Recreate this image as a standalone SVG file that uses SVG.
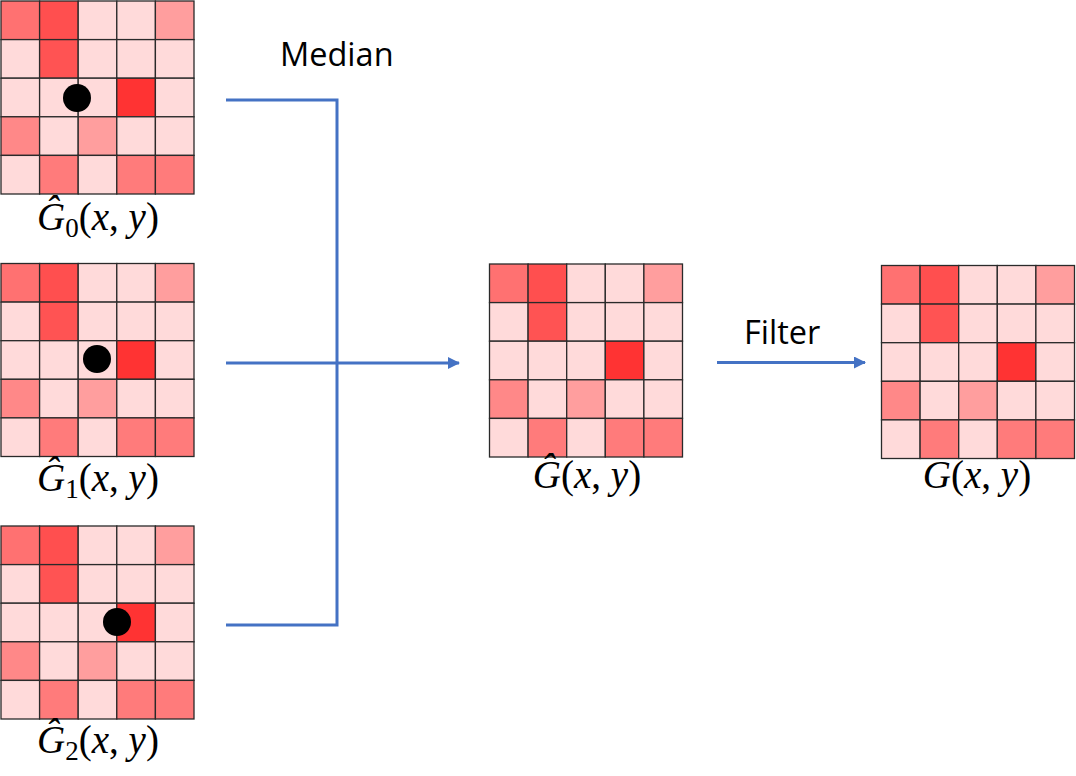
<svg xmlns="http://www.w3.org/2000/svg" xmlns:xlink="http://www.w3.org/1999/xlink" width="1076" height="776" viewBox="0 0 1076 776">
<style>
.c{stroke:#2a2a2a;stroke-width:1.3}
.l{fill:#FFDADA}
.m1{fill:#FF7171}
.m2{fill:#FF4F4F}
.m3{fill:#FF9E9E}
.m4{fill:#FF5353}
.m5{fill:#FF3333}
.m6{fill:#FF8888}
.m7{fill:#FF7B7B}
.conn{stroke:#4472C4;stroke-width:3;fill:none}
.lab{font-family:"Open Sans","Liberation Sans",sans-serif;font-size:32.5px;fill:#000}
.math{font-family:"Liberation Serif","DejaVu Serif",serif;font-size:39px;fill:#000;text-anchor:middle}
.it{font-style:italic}
</style>
<defs>
<marker id="ah" markerWidth="12" markerHeight="12" refX="11" refY="6" orient="auto" markerUnits="userSpaceOnUse">
<path d="M0,0 L12,6 L0,12 Z" fill="#4472C4"/>
</marker>
<g id="grid">
<rect class="c m1" x="0" y="0" width="38.6" height="38.6"/>
<rect class="c m2" x="38.6" y="0" width="38.6" height="38.6"/>
<rect class="c l" x="77.2" y="0" width="38.6" height="38.6"/>
<rect class="c l" x="115.8" y="0" width="38.6" height="38.6"/>
<rect class="c m3" x="154.4" y="0" width="38.6" height="38.6"/>
<rect class="c l" x="0" y="38.6" width="38.6" height="38.6"/>
<rect class="c m4" x="38.6" y="38.6" width="38.6" height="38.6"/>
<rect class="c l" x="77.2" y="38.6" width="38.6" height="38.6"/>
<rect class="c l" x="115.8" y="38.6" width="38.6" height="38.6"/>
<rect class="c l" x="154.4" y="38.6" width="38.6" height="38.6"/>
<rect class="c l" x="0" y="77.2" width="38.6" height="38.6"/>
<rect class="c l" x="38.6" y="77.2" width="38.6" height="38.6"/>
<rect class="c l" x="77.2" y="77.2" width="38.6" height="38.6"/>
<rect class="c m5" x="115.8" y="77.2" width="38.6" height="38.6"/>
<rect class="c l" x="154.4" y="77.2" width="38.6" height="38.6"/>
<rect class="c m6" x="0" y="115.8" width="38.6" height="38.6"/>
<rect class="c l" x="38.6" y="115.8" width="38.6" height="38.6"/>
<rect class="c m3" x="77.2" y="115.8" width="38.6" height="38.6"/>
<rect class="c l" x="115.8" y="115.8" width="38.6" height="38.6"/>
<rect class="c l" x="154.4" y="115.8" width="38.6" height="38.6"/>
<rect class="c l" x="0" y="154.4" width="38.6" height="38.6"/>
<rect class="c m7" x="38.6" y="154.4" width="38.6" height="38.6"/>
<rect class="c l" x="77.2" y="154.4" width="38.6" height="38.6"/>
<rect class="c m7" x="115.8" y="154.4" width="38.6" height="38.6"/>
<rect class="c m7" x="154.4" y="154.4" width="38.6" height="38.6"/>
</g>
</defs>
<rect width="1076" height="776" fill="#fff"/>

<g id="g0">
<use xlink:href="#grid" href="#grid" x="1" y="1"/>
<circle cx="77" cy="98" r="14" fill="#000"/>
<text class="math" x="98" y="230"><tspan class="it">Ĝ</tspan><tspan font-size="27" dy="7">0</tspan><tspan dy="-7">(</tspan><tspan class="it">x</tspan>, <tspan class="it">y</tspan>)</text>
</g>

<g id="g1">
<use xlink:href="#grid" href="#grid" x="1" y="263.5"/>
<circle cx="97" cy="359" r="14" fill="#000"/>
<text class="math" x="98" y="491"><tspan class="it">Ĝ</tspan><tspan font-size="27" dy="7">1</tspan><tspan dy="-7">(</tspan><tspan class="it">x</tspan>, <tspan class="it">y</tspan>)</text>
</g>

<g id="g2">
<use xlink:href="#grid" href="#grid" x="1" y="526"/>
<circle cx="117" cy="622" r="14" fill="#000"/>
<text class="math" x="98" y="753"><tspan class="it">Ĝ</tspan><tspan font-size="27" dy="7">2</tspan><tspan dy="-7">(</tspan><tspan class="it">x</tspan>, <tspan class="it">y</tspan>)</text>
</g>

<g id="gmed">
<use xlink:href="#grid" href="#grid" x="489.5" y="264"/>
<text class="math" x="587" y="488"><tspan class="it">Ĝ</tspan>(<tspan class="it">x</tspan>, <tspan class="it">y</tspan>)</text>
</g>

<g id="gout">
<use xlink:href="#grid" href="#grid" x="881.5" y="265.5"/>
<text class="math" x="977" y="488"><tspan class="it">G</tspan>(<tspan class="it">x</tspan>, <tspan class="it">y</tspan>)</text>
</g>

<g id="connectors">
<polyline class="conn" points="226,100 337,100 337,625 226,625"/>
<line class="conn" x1="226" y1="363" x2="459" y2="363" marker-end="url(#ah)"/>
<line class="conn" x1="717" y1="362.5" x2="865" y2="362.5" marker-end="url(#ah)"/>
<text class="lab" x="280" y="66">Median</text>
<text class="lab" x="744" y="344">Filter</text>
</g>
</svg>
